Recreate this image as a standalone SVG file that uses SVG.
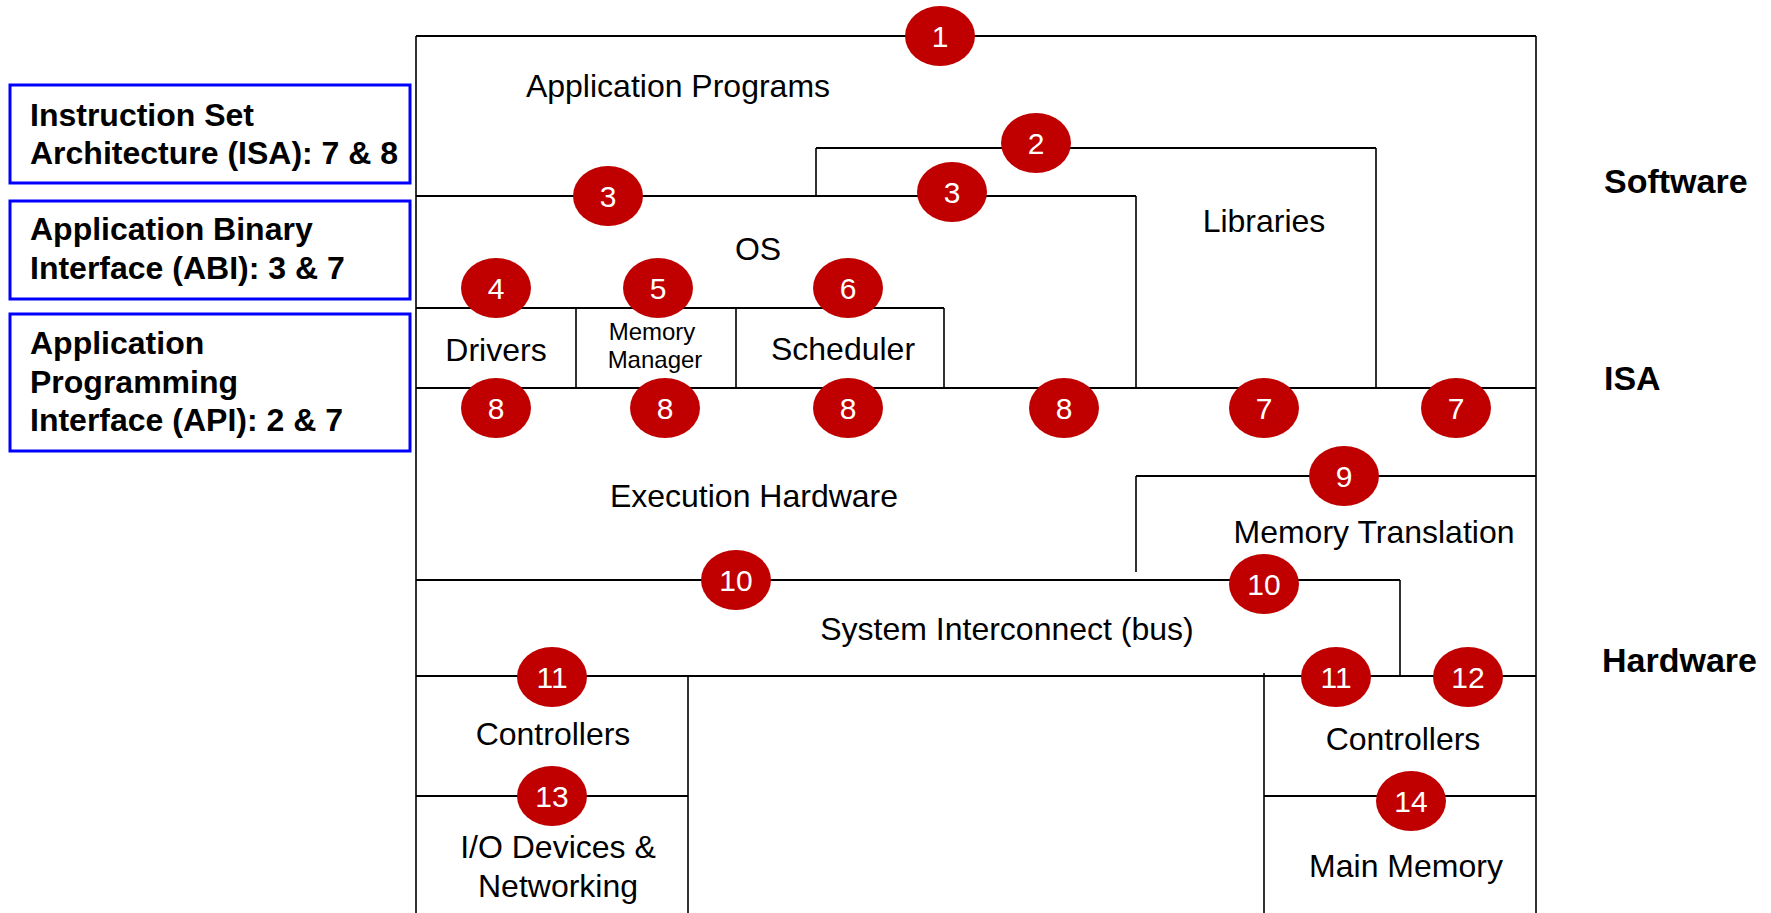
<svg xmlns="http://www.w3.org/2000/svg" width="1771" height="913" viewBox="0 0 1771 913">
<style>
.ln{stroke:#000;stroke-width:2;fill:none}
.vl{stroke:#000;stroke-width:1.6;fill:none}
.t{font-family:"Liberation Sans",Arial,sans-serif;font-size:32px;fill:#000;text-anchor:middle}
.ts{font-family:"Liberation Sans",Arial,sans-serif;font-size:24px;fill:#000;text-anchor:middle}
.b{font-family:"Liberation Sans",Arial,sans-serif;font-size:32px;font-weight:bold;fill:#000}
.side{font-family:"Liberation Sans",Arial,sans-serif;font-size:34px;font-weight:bold;fill:#000}
.bx{fill:#fff;stroke:#0000FF;stroke-width:3}
.c{fill:#C00000}
.n{font-family:"Liberation Sans",Arial,sans-serif;font-size:30px;fill:#fff;text-anchor:middle}
</style>
<rect width="1771" height="913" fill="#fff"/>
<g id="connectors">
<path class="ln" d="M416,36H1536M816,148H1376M416,196H1136M416,308H944M416,388H1536M1136,476H1536M416,580H1400M416,676H1536M416,796H688M1264,796H1536"/>
<path class="vl" d="M416,36V913M1536,36V913M816,148V196M1376,148V388M1136,196V388M944,308V388M576,308V388M736,308V388M1136,476V572M1400,580V676M688,676V913M1264,673V913"/>
</g>
<g id="isa-box"><rect class="bx" x="10" y="85" width="400" height="98"/><text class="b" x="30" y="126">Instruction Set</text><text class="b" x="30" y="164">Architecture (ISA): 7 &amp; 8</text></g>
<g id="abi-box"><rect class="bx" x="10" y="201" width="400" height="98"/><text class="b" x="30" y="240">Application Binary</text><text class="b" x="30" y="279">Interface (ABI): 3 &amp; 7</text></g>
<g id="api-box"><rect class="bx" x="10" y="314" width="400" height="137"/><text class="b" x="30" y="354">Application</text><text class="b" x="30" y="393">Programming</text><text class="b" x="30" y="431">Interface (API): 2 &amp; 7</text></g>
<g id="app-programs"><text class="t" x="678" y="97">Application Programs</text></g>
<g id="libraries"><text class="t" x="1264" y="232">Libraries</text></g>
<g id="os"><text class="t" x="758" y="260">OS</text></g>
<g id="drivers"><text class="t" x="496" y="361">Drivers</text></g>
<g id="memory-manager"><text class="ts" x="652" y="340">Memory</text><text class="ts" x="655" y="368">Manager</text></g>
<g id="scheduler"><text class="t" x="843" y="360">Scheduler</text></g>
<g id="execution-hardware"><text class="t" x="754" y="507">Execution Hardware</text></g>
<g id="memory-translation"><text class="t" x="1374" y="543">Memory Translation</text></g>
<g id="system-interconnect"><text class="t" x="1007" y="640">System Interconnect (bus)</text></g>
<g id="controllers-left"><text class="t" x="553" y="745">Controllers</text></g>
<g id="io-devices"><text class="t" x="558" y="858">I/O Devices &amp;</text><text class="t" x="558" y="897">Networking</text></g>
<g id="controllers-right"><text class="t" x="1403" y="750">Controllers</text></g>
<g id="main-memory"><text class="t" x="1406" y="877">Main Memory</text></g>
<g id="label-software"><text class="side" x="1604" y="193">Software</text></g>
<g id="label-isa"><text class="side" x="1604" y="390">ISA</text></g>
<g id="label-hardware"><text class="side" x="1602" y="672">Hardware</text></g>
<g id="m1"><ellipse class="c" cx="940" cy="36" rx="35" ry="30"/><text class="n" x="940" y="47">1</text></g>
<g id="m2"><ellipse class="c" cx="1036" cy="143" rx="35" ry="30"/><text class="n" x="1036" y="154">2</text></g>
<g id="m3a"><ellipse class="c" cx="608" cy="196" rx="35" ry="30"/><text class="n" x="608" y="207">3</text></g>
<g id="m3b"><ellipse class="c" cx="952" cy="192" rx="35" ry="30"/><text class="n" x="952" y="203">3</text></g>
<g id="m4"><ellipse class="c" cx="496" cy="288" rx="35" ry="30"/><text class="n" x="496" y="299">4</text></g>
<g id="m5"><ellipse class="c" cx="658" cy="288" rx="35" ry="30"/><text class="n" x="658" y="299">5</text></g>
<g id="m6"><ellipse class="c" cx="848" cy="288" rx="35" ry="30"/><text class="n" x="848" y="299">6</text></g>
<g id="m8a"><ellipse class="c" cx="496" cy="408" rx="35" ry="30"/><text class="n" x="496" y="419">8</text></g>
<g id="m8b"><ellipse class="c" cx="665" cy="408" rx="35" ry="30"/><text class="n" x="665" y="419">8</text></g>
<g id="m8c"><ellipse class="c" cx="848" cy="408" rx="35" ry="30"/><text class="n" x="848" y="419">8</text></g>
<g id="m8d"><ellipse class="c" cx="1064" cy="408" rx="35" ry="30"/><text class="n" x="1064" y="419">8</text></g>
<g id="m7a"><ellipse class="c" cx="1264" cy="408" rx="35" ry="30"/><text class="n" x="1264" y="419">7</text></g>
<g id="m7b"><ellipse class="c" cx="1456" cy="408" rx="35" ry="30"/><text class="n" x="1456" y="419">7</text></g>
<g id="m9"><ellipse class="c" cx="1344" cy="476" rx="35" ry="30"/><text class="n" x="1344" y="487">9</text></g>
<g id="m10a"><ellipse class="c" cx="736" cy="580" rx="35" ry="30"/><text class="n" x="736" y="591">10</text></g>
<g id="m10b"><ellipse class="c" cx="1264" cy="584" rx="35" ry="30"/><text class="n" x="1264" y="595">10</text></g>
<g id="m11a"><ellipse class="c" cx="552" cy="677" rx="35" ry="30"/><text class="n" x="552" y="688">11</text></g>
<g id="m11b"><ellipse class="c" cx="1336" cy="677" rx="35" ry="30"/><text class="n" x="1336" y="688">11</text></g>
<g id="m12"><ellipse class="c" cx="1468" cy="677" rx="35" ry="30"/><text class="n" x="1468" y="688">12</text></g>
<g id="m13"><ellipse class="c" cx="552" cy="796" rx="35" ry="30"/><text class="n" x="552" y="807">13</text></g>
<g id="m14"><ellipse class="c" cx="1411" cy="801" rx="35" ry="30"/><text class="n" x="1411" y="812">14</text></g>
</svg>
